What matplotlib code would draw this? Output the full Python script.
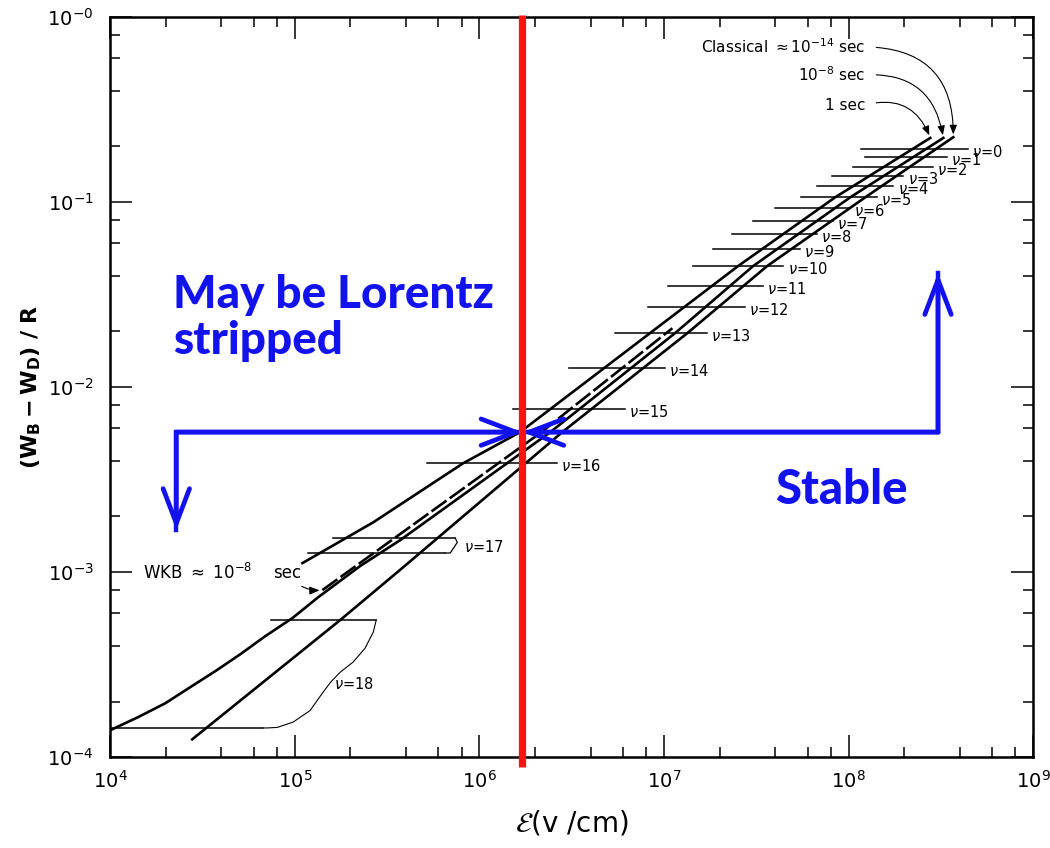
import matplotlib.pyplot as plt
from matplotlib.ticker import LogLocator, NullFormatter

plt.rcParams['font.family'] = 'DejaVu Sans'
plt.rcParams['mathtext.default'] = 'regular'

# curves: field strength (V/cm) vs (W_B - W_D)/R
e_upper = [1.10e5, 2.66e5, 8.17e5, 1.66e6, 8.41e6, 2.52e7, 8.45e7, 2.77e8]
w_upper = [1.12e-3, 1.86e-3, 3.88e-3, 5.71e-3, 1.96e-2, 4.51e-2, 0.106, 0.222]

e_mid = [1.0e4, 1.42e4, 1.99e4, 2.71e4, 3.71e4, 5.06e4, 6.91e4, 9.68e4,
         1.34e5, 2.26e5, 3.72e5, 2.42e6, 1.15e7, 3.04e7, 1.02e8, 3.26e8]
w_mid = [1.40e-4, 1.65e-4, 1.96e-4, 2.39e-4, 2.92e-4, 3.60e-4, 4.51e-4,
         5.64e-4, 7.33e-4, 1.08e-3, 1.49e-3, 5.71e-3, 1.96e-2, 4.51e-2,
         0.106, 0.222]

e_wkb = [1.41e5, 2.13e6, 1.11e7]
w_wkb = [8.00e-4, 5.64e-3, 2.08e-2]

e_lower = [2.78e4, 1.76e5, 3.72e5, 2.81e6, 1.34e7, 3.62e7, 1.23e8, 3.69e8]
w_lower = [1.25e-4, 5.51e-4, 1.03e-3, 5.71e-3, 1.96e-2, 4.51e-2, 0.106, 0.224]

# vibrational levels v = 0..16
levels = list(range(17))
bar_w = [0.1934, 0.1750, 0.1546, 0.1382, 0.1221, 0.1064, 0.0928, 0.0789,
         0.0671, 0.0557, 0.0451, 0.0352, 0.0271, 0.0196, 0.01267, 7.60e-3,
         3.88e-3]
bar_lo = [1.17e8, 1.23e8, 1.06e8, 8.15e7, 6.76e7, 5.53e7, 4.00e7, 3.04e7,
          2.34e7, 1.85e7, 1.44e7, 1.05e7, 8.20e6, 5.44e6, 3.06e6, 1.52e6,
          5.21e5]
bar_hi = [4.45e8, 3.42e8, 2.87e8, 1.98e8, 1.75e8, 1.43e8, 1.02e8, 8.26e7,
          6.76e7, 5.47e7, 4.43e7, 3.44e7, 2.75e7, 1.71e7, 1.01e7, 6.17e6,
          2.64e6]

# v = 17 and v = 18 come as pairs of bars joined by a bracket
v17_w = [1.53e-3, 1.27e-3]
v17_lo = [1.60e5, 1.18e5]
v17_hi = [7.39e5, 6.53e5]
v17_link_e = [7.39e5, 7.59e5, 6.95e5, 6.53e5]
v17_link_w = [1.53e-3, 1.45e-3, 1.27e-3, 1.27e-3]

v18_w = [5.51e-4, 1.44e-4]
v18_lo = [7.45e4, 1.0e4]
v18_hi = [2.76e5, 6.75e4]
v18_link_e = [2.76e5, 2.66e5, 2.40e5, 2.07e5, 1.76e5, 1.56e5, 1.41e5,
              1.21e5, 9.80e4, 8.04e4, 7.08e4, 6.75e4]
v18_link_w = [5.51e-4, 4.74e-4, 3.88e-4, 3.27e-4, 2.88e-4, 2.54e-4, 2.22e-4,
              1.79e-4, 1.55e-4, 1.45e-4, 1.44e-4, 1.44e-4]

E_CRIT = 1.71e6
W_SPLIT = 5.71e-3
e_left, e_right = 2.28e4, 3.05e8
w_down, w_up = 1.69e-3, 4.13e-2

BLUE = '#1212ee'
RED = '#f81414'
NU = r'$\mathit{\nu}$'

fig = plt.figure(figsize=(10.5, 8.48), dpi=100)
ax = fig.add_axes([0.105, 0.107, 0.879, 0.873])
ax.set_xscale('log')
ax.set_yscale('log')
ax.set_xlim(1e4, 1e9)
ax.set_ylim(1e-4, 1)

lw_main = 1.9
ax.plot(e_upper, w_upper, color='k', lw=lw_main)
ax.plot(e_mid, w_mid, color='k', lw=lw_main)
ax.plot(e_wkb, w_wkb, color='k', lw=lw_main, dashes=(7, 1.5))
ax.plot(e_lower, w_lower, color='k', lw=lw_main)

for v, w, lo, hi in zip(levels, bar_w, bar_lo, bar_hi):
    ax.plot([lo, hi], [w, w], color='k', lw=1.1)
    ax.annotate(f'{NU}={v}', (hi, w), xytext=(3, -2), textcoords='offset points',
                va='center', ha='left', fontsize=10.5)

for w, lo, hi in zip(v17_w, v17_lo, v17_hi):
    ax.plot([lo, hi], [w, w], color='k', lw=1.1)
ax.plot(v17_link_e, v17_link_w, color='k', lw=0.9)
ax.text(8.2e5, 1.36e-3, f'{NU}=17', va='center', ha='left', fontsize=10.5)

for w, lo, hi in zip(v18_w, v18_lo, v18_hi):
    ax.plot([lo, hi], [w, w], color='k', lw=1.1)
ax.plot(v18_link_e, v18_link_w, color='k', lw=0.8)
ax.text(1.63e5, 2.48e-4, f'{NU}=18', va='center', ha='left', fontsize=10.5)

# lifetime labels at the top end of the curves
arrow_kw = dict(arrowstyle='-|>,head_length=0.5,head_width=0.2', lw=0.8,
                color='k', relpos=(1, 0.5), shrinkA=6, shrinkB=2)
for label, ty, tip, rad in [(r'Classical $\approx$10$^{-14}$ sec', 0.689,
                             (e_lower[-1], w_lower[-1]), -0.5),
                            (r'10$^{-8}$ sec', 0.486, (e_mid[-1], w_mid[-1]), -0.45),
                            ('1 sec', 0.334, (e_upper[-1], w_upper[-1]), -0.45)]:
    ax.annotate(label, xy=tip, xytext=(1.23e8, ty), ha='right', va='center',
                fontsize=11,
                arrowprops=dict(connectionstyle=f'arc3,rad={rad}', **arrow_kw))

ax.text(1.51e4, 9.88e-4, r'WKB $\approx$ 10$^{-8}$', va='center', ha='left',
        fontsize=12)
ax.annotate('sec', xy=(e_wkb[0], w_wkb[0]), xytext=(7.6e4, 9.88e-4),
            ha='left', va='center', fontsize=12,
            arrowprops=dict(arrowstyle='-|>,head_length=0.5,head_width=0.2',
                            lw=0.8, color='k', relpos=(0.8, 0),
                            connectionstyle='arc3,rad=0.2', shrinkA=2, shrinkB=2))

# stability boundary
ax.plot([E_CRIT, E_CRIT], [8.9e-5, 1.02], color=RED, lw=5.2, zorder=6,
        clip_on=False, solid_capstyle='butt')

ax.plot([e_left, e_left, E_CRIT], [w_down, W_SPLIT, W_SPLIT], color=BLUE,
        lw=3.2, solid_joinstyle='miter', zorder=5)
ax.plot([E_CRIT, e_right, e_right], [W_SPLIT, W_SPLIT, w_up], color=BLUE,
        lw=3.2, solid_joinstyle='miter', zorder=5)
head = dict(arrowstyle='->,head_length=2.5,head_width=0.95', color=BLUE, lw=3.4,
            mutation_scale=10, shrinkA=0, shrinkB=0)
for tip, tail in [((E_CRIT, W_SPLIT), (e_left, W_SPLIT)),
                  ((e_left, w_down), (e_left, W_SPLIT)),
                  ((E_CRIT, W_SPLIT), (e_right, W_SPLIT)),
                  ((e_right, w_up), (e_right, W_SPLIT))]:
    ax.annotate('', xy=tip, xytext=tail, arrowprops=head, zorder=5)

ax.text(2.19e4, 0.0236, 'May be Lorentz\nstripped', color=BLUE, fontsize=33,
        fontweight='black', family='Lato', va='center', ha='left',
        linespacing=1.12)
ax.text(4.0e7, 2.77e-3, 'Stable', color=BLUE, fontsize=34, fontweight='black',
        family='Lato', va='center', ha='left')

# axes styling
for s in ax.spines.values():
    s.set_linewidth(1.8)
ax.set_xticks([1e4, 1e5, 1e6, 1e7, 1e8, 1e9],
              [r'$10^{4}$', r'$10^{5}$', r'$10^{6}$', r'$10^{7}$', r'$10^{8}$', r'$10^{9}$'])
ax.set_yticks([1e-4, 1e-3, 1e-2, 1e-1, 1],
              [r'$10^{-4}$', r'$10^{-3}$', r'$10^{-2}$', r'$10^{-1}$', r'$10^{-0}$'])
ax.xaxis.set_minor_locator(LogLocator(base=10, subs=(2, 4, 6, 8)))
ax.yaxis.set_minor_locator(LogLocator(base=10, subs=(2, 4, 6, 8)))
ax.xaxis.set_minor_formatter(NullFormatter())
ax.yaxis.set_minor_formatter(NullFormatter())
ax.tick_params(which='both', direction='in', top=True, right=True, width=1.1)
ax.tick_params(which='major', length=16, labelsize=14)
ax.tick_params(which='minor', length=7)
ax.tick_params(axis='y', pad=12)
ax.tick_params(axis='x', pad=9)

ax.set_ylabel(r'$\mathbf{(W_B - W_D)\ /\ R}$', fontsize=16, labelpad=3)
ax.set_xlabel(r'$\mathcal{E}$(v /cm)', fontsize=20, labelpad=12)

fig.savefig('out.png', dpi=100)
